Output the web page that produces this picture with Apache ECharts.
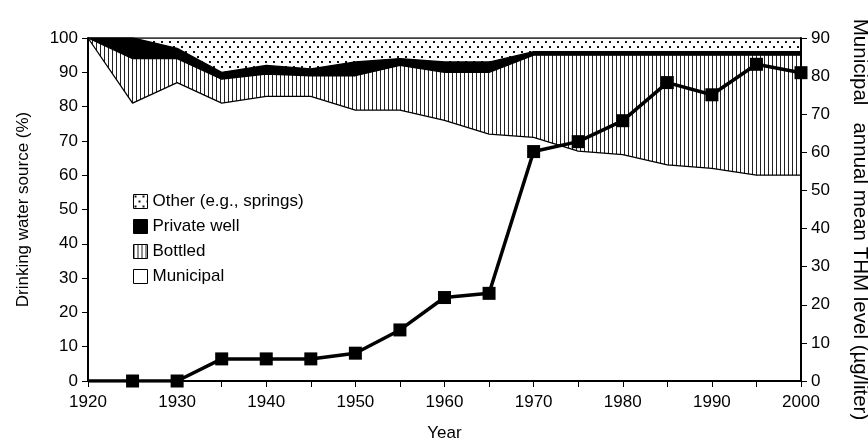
<!DOCTYPE html>
<html>
<head>
<meta charset="utf-8">
<script src="https://cdn.jsdelivr.net/npm/echarts@6/dist/echarts.min.js"></script>
<style>
html, body { margin: 0; padding: 0; background: #fff; }
#chart { width: 868px; height: 444px; }
</style>
</head>
<body>
<div id="chart"></div>
<script>
// years and shares (%) of each drinking water source, bottom to top
var years = [1920, 1925, 1930, 1935, 1940, 1945, 1950, 1955, 1960, 1965, 1970, 1975, 1980, 1985, 1990, 1995, 2000];
var municipal = [100, 81, 87, 81, 83, 83, 79, 79, 76, 72, 71, 67, 66, 63, 62, 60, 60];
var bottled = [0, 13, 7, 7, 6.5, 6, 10, 13, 14, 18, 24, 28, 29, 32, 33, 35, 35];
var privateWell = [0, 6, 3, 2, 2.5, 2, 4, 2, 3, 3, 1, 1, 1, 1, 1, 1, 1];
var other = [0, 0, 3, 10, 8, 9, 7, 6, 7, 7, 4, 4, 4, 4, 4, 4, 4];
// municipal annual mean THM level (ug/liter)
var thm = [0, 0, 0, 5.8, 5.8, 5.8, 7.3, 13.4, 21.9, 23, 60.2, 62.8, 68.3, 78.3, 75.1, 83.1, 80.9];

var font = 'Liberation Sans, Arial, sans-serif';

// vertical hatching for bottled
function stripes() {
    var c = document.createElement('canvas');
    c.width = 4; c.height = 4;
    var ctx = c.getContext('2d');
    ctx.fillStyle = '#fff';
    ctx.fillRect(0, 0, 4, 4);
    ctx.fillStyle = '#222';
    ctx.fillRect(0, 0, 1, 4);
    return { image: c, repeat: 'repeat' };
}
// dotted fill for other
function dots() {
    var c = document.createElement('canvas');
    c.width = 8; c.height = 10;
    var ctx = c.getContext('2d');
    ctx.fillStyle = '#fff';
    ctx.fillRect(0, 0, 8, 10);
    ctx.fillStyle = '#111';
    ctx.fillRect(1, 1, 2, 2);
    ctx.fillRect(5, 6, 2, 2);
    return { image: c, repeat: 'repeat' };
}

// running totals, so each area is drawn from 0 up to its own top
function cumulate(lists) {
    var out = [];
    for (var i = 0; i < years.length; i++) {
        var s = 0;
        for (var k = 0; k < lists.length; k++) s += lists[k][i];
        out.push([years[i], s]);
    }
    return out;
}

function areaSeries(name, data, fill, z) {
    return {
        name: name,
        type: 'line',
        yAxisIndex: 0,
        data: data,
        symbol: 'none',
        lineStyle: { color: '#000', width: 1.3 },
        itemStyle: { color: fill },
        areaStyle: { color: fill, opacity: 1 },
        silent: true,
        z: z,
    };
}

var stripeFill = stripes();
var dotFill = dots();

var thmData = [];
for (var i = 0; i < years.length; i++) {
    thmData.push(i === 0 ? { value: [years[i], thm[i]], symbol: 'none' } : [years[i], thm[i]]);
}

var chart = echarts.init(document.getElementById('chart'));
var option = {
    animation: false,
    backgroundColor: '#fff',
    textStyle: { fontFamily: font },
    grid: { left: 88, right: 67, top: 38, bottom: 63, outerBoundsMode: 'none' },
    legend: {
        left: 128,
        top: 188,
        z: 20,
        orient: 'vertical',
        itemWidth: 14,
        itemHeight: 14,
        itemGap: 8,
        icon: 'rect',
        textStyle: { fontFamily: font, fontSize: 17, color: '#000' },
        data: [
            { name: 'Other (e.g., springs)', itemStyle: { color: dotFill, borderColor: '#000', borderWidth: 1 } },
            { name: 'Private well', itemStyle: { color: '#000', borderColor: '#000', borderWidth: 1 } },
            { name: 'Bottled', itemStyle: { color: stripeFill, borderColor: '#000', borderWidth: 1 } },
            { name: 'Municipal', itemStyle: { color: '#fff', borderColor: '#000', borderWidth: 1 } },
        ],
    },
    xAxis: {
        type: 'value',
        min: 1920,
        max: 2000,
        interval: 5,
        z: 10,
        name: 'Year',
        nameLocation: 'middle',
        nameGap: 44,
        nameTextStyle: { fontFamily: font, fontSize: 17, color: '#000' },
        splitLine: { show: false },
        axisLine: { lineStyle: { color: '#000', width: 2 } },
        axisTick: { lineStyle: { color: '#000', width: 1 }, length: 6 },
        axisLabel: {
            fontFamily: font,
            fontSize: 17,
            color: '#000',
            margin: 13,
            formatter: function (v) {
                return v % 10 === 0 ? String(v) : '';
            },
        },
    },
    yAxis: [
        {
            type: 'value',
            min: 0,
            max: 100,
            interval: 10,
            z: 10,
            name: 'Drinking water source (%)',
            nameLocation: 'middle',
            nameGap: 56,
            nameTextStyle: { fontFamily: font, fontSize: 17, color: '#000' },
            splitLine: { show: false },
            axisLine: { show: true, lineStyle: { color: '#000', width: 2 } },
            axisTick: { show: true, lineStyle: { color: '#000', width: 1 }, length: 6 },
            axisLabel: { fontFamily: font, fontSize: 17, color: '#000', margin: 10 },
        },
        {
            type: 'value',
            min: 0,
            max: 90,
            interval: 10,
            z: 10,
            position: 'right',
            name: 'Municipal   annual mean THM level (µg/liter)',
            nameLocation: 'middle',
            nameRotate: -90,
            nameGap: 48,
            nameTextStyle: { fontFamily: font, fontSize: 20.5, color: '#000', padding: [0, 0, 0, 20] },
            splitLine: { show: false },
            axisLine: { show: true, lineStyle: { color: '#000', width: 2 } },
            axisTick: { show: true, lineStyle: { color: '#000', width: 1 }, length: 6 },
            axisLabel: { fontFamily: font, fontSize: 17, color: '#000', margin: 10 },
        },
    ],
    series: [
        areaSeries('Other (e.g., springs)', cumulate([municipal, bottled, privateWell, other]), dotFill, 1),
        areaSeries('Private well', cumulate([municipal, bottled, privateWell]), '#000', 2),
        areaSeries('Bottled', cumulate([municipal, bottled]), stripeFill, 3),
        areaSeries('Municipal', cumulate([municipal]), '#fff', 4),
        {
            name: 'THM',
            type: 'line',
            yAxisIndex: 1,
            data: thmData,
            symbol: 'rect',
            symbolSize: 13,
            lineStyle: { color: '#000', width: 3.5 },
            itemStyle: { color: '#000' },
            z: 8,
        },
    ],
};
chart.setOption(option);
</script>
</body>
</html>
